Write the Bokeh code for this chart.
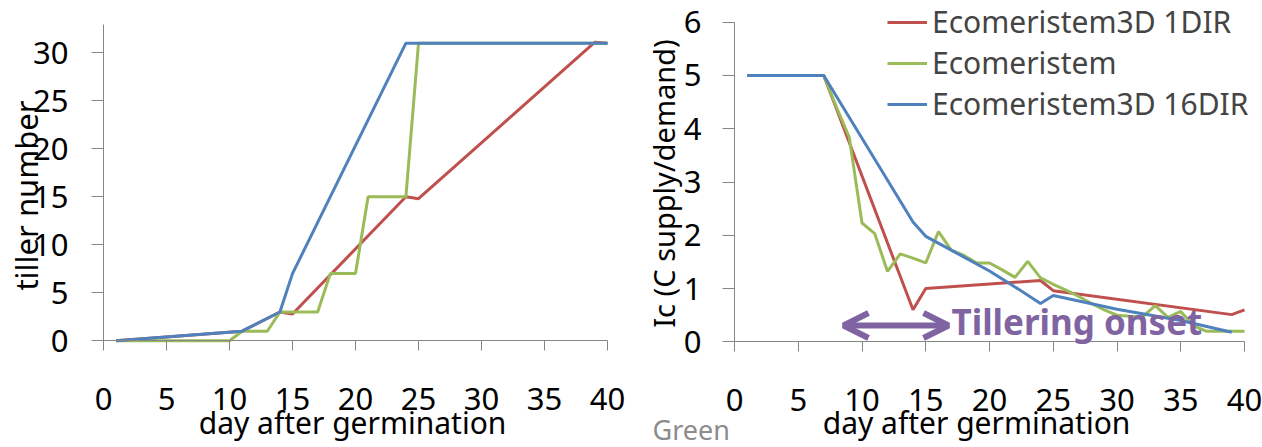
import math
from bokeh.plotting import figure
from bokeh.layouts import row
from bokeh.models import Legend, LegendItem, Arrow, OpenHead, Label, FixedTicker, Range1d
from bokeh.embed import file_html
from bokeh.resources import INLINE

# ---------------- data ----------------
x_ticks = [0, 5, 10, 15, 20, 25, 30, 35, 40]
tiller_ticks = [0, 5, 10, 15, 20, 25, 30]
ic_ticks = [0, 1, 2, 3, 4, 5, 6]

series_names = ["Ecomeristem3D 1DIR", "Ecomeristem", "Ecomeristem3D 16DIR"]

# left chart: tiller number
tiller_day_1dir = [1, 11, 14, 15, 24, 25, 39, 40]
tiller_1dir = [0, 1, 3, 2.8, 15, 14.8, 31.1, 31]

tiller_day_eco = [1, 10, 11, 13, 14, 17, 18, 20, 21, 24, 25, 40]
tiller_eco = [0, 0, 1, 1, 3, 3, 7, 7, 15, 15, 31, 31]

tiller_day_16dir = [1, 11, 14, 15, 24, 40]
tiller_16dir = [0, 1, 3, 7, 31, 31]

# right chart: Ic (C supply/demand)
ic_day_1dir = [1, 7, 14, 15, 24, 25, 39, 40]
ic_1dir = [5, 5, 0.6, 1.0, 1.15, 0.96, 0.51, 0.6]

ic_day_eco = [1, 7, 8, 9, 10, 11, 12, 13, 14, 15, 16, 17, 18, 19, 20, 21, 22, 23, 24,
              25, 26, 27, 28, 29, 30, 31, 32, 33, 34, 35, 36, 37, 38, 39, 40]
ic_eco = [5, 5, 4.4, 3.84, 2.23, 2.03, 1.32, 1.65, 1.57, 1.48, 2.07, 1.72, 1.62, 1.48, 1.48,
          1.35, 1.21, 1.51, 1.2, 1.08, 0.97, 0.85, 0.72, 0.6, 0.5, 0.48, 0.47, 0.68, 0.46,
          0.57, 0.3, 0.2, 0.2, 0.2, 0.2]

ic_day_16dir = [1, 7, 14, 15, 17, 20, 22, 24, 25, 30, 35, 39]
ic_16dir = [5, 5, 2.25, 1.98, 1.72, 1.33, 1.03, 0.72, 0.87, 0.61, 0.4, 0.18]

# ---------------- layout (pixels) ----------------
W_L, W_R, H = 640, 622, 447
# left chart: pixel of x=0, x=40, y=0, y=30 in the left canvas
LX0, LX40, LY0, LY30 = 103, 607, 340.3, 52.3
# right chart: pixel of x=0, x=40, y=0, y=6 in the right canvas (canvas starts at page x=640)
RX0, RX40, RY0, RY6 = 94, 604, 341.3, 21.7

FONT = "Noto Sans"
RED, GREEN, BLUE, PURPLE = "#C0504D", "#9BBB59", "#4F81BD", "#8064A2"
AXIS = "#868686"
LW = 3
MID = 0.388  # distance (em) from baseline to middle of the text box


def make_fig(x0, x40, y0, ytop_px, ytop_val, width):
    sx = (x40 - x0) / 40.0
    sy = (y0 - ytop_px) / ytop_val
    xr = Range1d(-x0 / sx, (width - x0) / sx)
    yr = Range1d((y0 - H) / sy, y0 / sy)
    p = figure(width=width, height=H, x_range=xr, y_range=yr, min_border=0,
               output_backend="svg", toolbar_location=None)
    conv = lambda px, py: ((px - x0) / sx, (y0 - py) / sy)
    return p, conv


def style(p, yticks, ybounds, ytick_standoff):
    p.xgrid.visible = False
    p.ygrid.visible = False
    p.outline_line_color = None
    p.background_fill_color = "white"
    p.border_fill_color = "white"
    p.xaxis.ticker = FixedTicker(ticks=x_ticks)
    p.yaxis.ticker = FixedTicker(ticks=yticks)
    p.xaxis.fixed_location = 0
    p.yaxis.fixed_location = 0
    p.xaxis.bounds = (0, 40)
    p.yaxis.bounds = ybounds
    for ax in (p.xaxis[0], p.yaxis[0]):
        ax.axis_line_color = AXIS
        ax.axis_line_width = 1
        ax.major_tick_line_color = AXIS
        ax.major_tick_in = 0
        ax.minor_tick_line_color = None
        ax.major_label_text_font = FONT
        ax.major_label_text_font_size = "31px"
        ax.major_label_text_color = "black"
    p.xaxis.major_tick_out = 10
    p.yaxis.major_tick_out = 12
    p.xaxis.major_label_standoff = 37
    p.yaxis.major_label_standoff = ytick_standoff


def text_at(p, conv, px, py, text, size, angle=0.0, align="center", color="black",
            style_="normal"):
    # (px, py): pixel position of the text baseline (centre or left end)
    if angle:
        px = px - MID * size
    else:
        py = py - MID * size
    x, y = conv(px, py)
    p.add_layout(Label(x=x, y=y, text=text, angle=angle, text_font=FONT,
                       text_font_size=f"{size}px", text_font_style=style_,
                       text_color=color, text_align=align, text_baseline="middle"))


# ---------------- left chart ----------------
p1, c1 = make_fig(LX0, LX40, LY0, LY30, 30, W_L)
style(p1, tiller_ticks, (0, 33), 23)
p1.line(tiller_day_1dir, tiller_1dir, line_color=RED, line_width=LW)
p1.line(tiller_day_eco, tiller_eco, line_color=GREEN, line_width=LW)
p1.line(tiller_day_16dir, tiller_16dir, line_color=BLUE, line_width=LW)
text_at(p1, c1, 38, 195, "tiller number", 31, angle=math.pi / 2)
text_at(p1, c1, 352, 434, "day after germination", 30)

# ---------------- right chart ----------------
p2, c2 = make_fig(RX0, RX40, RY0, RY6, 6, W_R)
style(p2, ic_ticks, (0, 6), 21)
r1 = p2.line(ic_day_1dir, ic_1dir, line_color=RED, line_width=LW)
r2 = p2.line(ic_day_eco, ic_eco, line_color=GREEN, line_width=LW)
r3 = p2.line(ic_day_16dir, ic_16dir, line_color=BLUE, line_width=LW)
text_at(p2, c2, 674 - 640, 183, "Ic (C supply/demand)", 29, angle=math.pi / 2)
text_at(p2, c2, 976 - 640, 434, "day after germination", 30)

legend = Legend(items=[LegendItem(label=series_names[0], renderers=[r1]),
                       LegendItem(label=series_names[1], renderers=[r2]),
                       LegendItem(label=series_names[2], renderers=[r3])],
                location=(887 - 640, H - 124), label_text_font=FONT, label_text_font_size="30px",
                glyph_width=40, glyph_height=38, label_height=38, spacing=0, padding=0,
                margin=0, label_standoff=5, border_line_color=None, background_fill_alpha=0)
p2.add_layout(legend)

a0 = c2(843 - 640, 325)
a1 = c2(948 - 640, 325)
p2.add_layout(Arrow(x_start=a0[0], y_start=a0[1], x_end=a1[0], y_end=a1[1],
                    line_color=PURPLE, line_width=6,
                    start=OpenHead(size=25, line_color=PURPLE, line_width=6),
                    end=OpenHead(size=25, line_color=PURPLE, line_width=6)))
text_at(p2, c2, 951 - 640, 335, "Tillering onset", 35, align="left", color=PURPLE,
        style_="bold")
text_at(p2, c2, 652 - 640, 439, "Green", 27, align="left", color="#8C8C8C")

layout = row(p1, p2)
open("out.html", "w").write(file_html(layout, INLINE))
